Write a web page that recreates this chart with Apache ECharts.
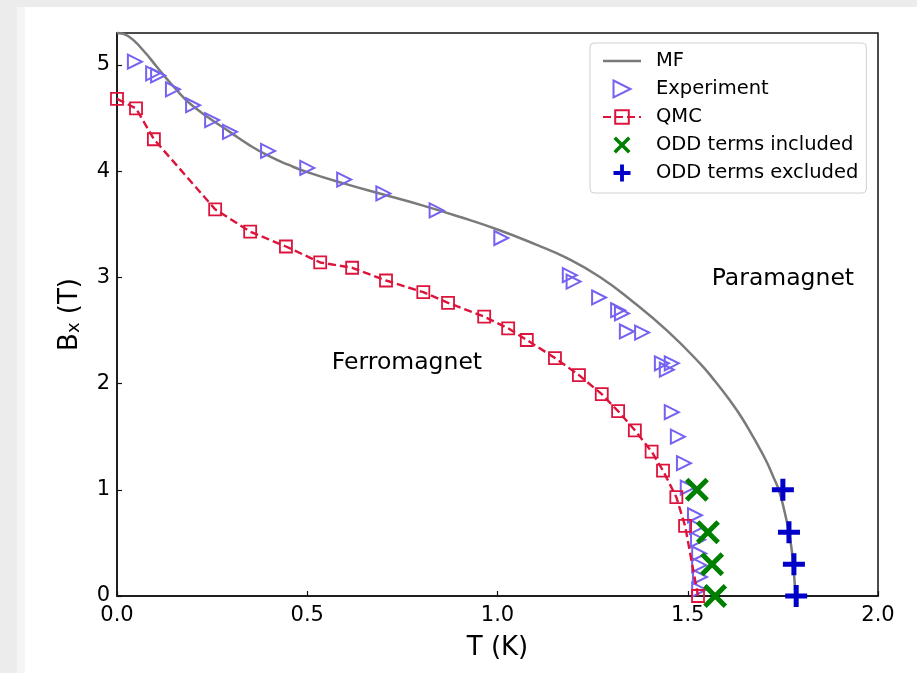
<!DOCTYPE html>
<html>
<head>
<meta charset="utf-8">
<title>Phase diagram Bx vs T</title>
<script src="https://cdn.jsdelivr.net/npm/echarts@6/dist/echarts.min.js"></script>
<style>
  html, body { margin: 0; padding: 0; background: #fff; }
  #page { position: relative; width: 917px; height: 673px; overflow: hidden; }
  #bandTop { position: absolute; left: 0; top: 0; width: 917px; height: 7px; background: #ececec; }
  #bandLeft { position: absolute; left: 0; top: 0; width: 17px; height: 673px; background: #ececec; }
  #bandLeft2 { position: absolute; left: 17px; top: 7px; width: 8px; height: 666px; background: #f5f5f5; }
  #main { position: absolute; left: 0; top: 0; width: 917px; height: 673px; }
</style>
</head>
<body>
<div id="page">
  <div id="bandTop"></div>
  <div id="bandLeft"></div>
  <div id="bandLeft2"></div>
  <div id="main"></div>
</div>
<script>
 // mean field boundary
 var mfT = [0, 0.03, 0.068, 0.105, 0.15, 0.2, 0.3, 0.35, 0.4, 0.45, 0.5, 0.6, 0.7, 0.8, 0.9, 1.0, 1.1, 1.183, 1.27, 1.356, 1.445, 1.532, 1.57, 1.611, 1.64, 1.673, 1.705, 1.725, 1.740, 1.754, 1.766, 1.773, 1.777, 1.780, 1.782, 1.783];
 var mfB = [5.30, 5.27, 5.14, 4.98, 4.79, 4.61, 4.36, 4.24, 4.14, 4.06, 3.99, 3.88, 3.78, 3.68, 3.57, 3.45, 3.31, 3.18, 3.00, 2.77, 2.50, 2.19, 2.03, 1.84, 1.69, 1.49, 1.28, 1.12, 0.99, 0.80, 0.60, 0.44, 0.30, 0.17, 0.07, 0.00];

 // experiment
 var expT = [0.047, 0.095, 0.108, 0.147, 0.20, 0.25, 0.297, 0.397, 0.50, 0.597, 0.70, 0.84, 1.01, 1.19, 1.20, 1.267, 1.317, 1.327, 1.34, 1.38, 1.432, 1.458, 1.445, 1.458, 1.474, 1.49, 1.50, 1.519, 1.524, 1.527, 1.530, 1.530, 1.532, 1.530];
 var expB = [5.03, 4.92, 4.90, 4.77, 4.62, 4.48, 4.37, 4.19, 4.03, 3.92, 3.79, 3.63, 3.37, 3.02, 2.96, 2.81, 2.69, 2.66, 2.49, 2.48, 2.19, 2.19, 2.13, 1.73, 1.50, 1.25, 1.02, 0.76, 0.65, 0.53, 0.40, 0.29, 0.18, 0.06];

 // QMC
 var qmcT = [0, 0.05, 0.097, 0.258, 0.35, 0.444, 0.534, 0.618, 0.707, 0.805, 0.87, 0.965, 1.028, 1.077, 1.151, 1.214, 1.274, 1.317, 1.361, 1.405, 1.435, 1.47, 1.493, 1.527];
 var qmcB = [4.68, 4.59, 4.30, 3.64, 3.43, 3.29, 3.14, 3.09, 2.97, 2.86, 2.76, 2.63, 2.52, 2.41, 2.24, 2.08, 1.90, 1.74, 1.56, 1.36, 1.18, 0.93, 0.66, 0.00];

 // ODD terms
 var inclT = [1.524, 1.553, 1.564, 1.572];
 var inclB = [1.0, 0.6, 0.3, 0.0];
 var exclT = [1.75, 1.766, 1.779, 1.785];
 var exclB = [1.0, 0.6, 0.3, 0.0];

 // phase labels
 var noteText = ['Paramagnet', 'Ferromagnet'];
 var noteT = [1.75, 0.762];
 var noteB = [2.985, 2.19];

 var font = 'DejaVu Sans';
 var triRight = 'path://M0,0 L14,7 L0,14 Z';
 var crossX = 'path://M3.5,0 L12,8.5 L20.5,0 L24,3.5 L15.5,12 L24,20.5 L20.5,24 L12,15.5 L3.5,24 L0,20.5 L8.5,12 L0,3.5 Z';
 var plus = 'path://M8.5,0 H13.5 V8.5 H22 V13.5 H13.5 V22 H8.5 V13.5 H0 V8.5 H8.5 Z';

 function pairs(xs, ys) {
     return xs.map(function (x, i) { return [x, ys[i]]; });
 }

 function drawChart() {
     var myChart = echarts.init(document.getElementById('main'), null, { renderer: 'canvas' });

     var notes = noteText.map(function (t, i) {
         return { name: t, value: [noteT[i], noteB[i]] };
     });

     var option = {
         animation: false,
         grid: {
             left: 117, top: 33, width: 761, height: 563,
             show: true, borderColor: '#111', borderWidth: 1.5, backgroundColor: 'transparent'
         },
         legend: {
             orient: 'vertical',
             left: 590, top: 43,
             padding: [8, 8, 10, 12],
             itemWidth: 38, itemHeight: 17, itemGap: 8,
             borderColor: '#d0d0d0', borderWidth: 1, borderRadius: 4,
             backgroundColor: '#fff',
             textStyle: { fontFamily: font, fontSize: 19.5, color: '#000', lineHeight: 18, padding: [0, 0, 0, 10] },
             data: [
                 { name: 'MF', icon: 'path://M0,0 H38 V2.5 H0 Z' },
                 { name: 'Experiment' },
                 { name: 'QMC' },
                 { name: 'ODD terms included' },
                 { name: 'ODD terms excluded' }
             ]
         },
         xAxis: {
             type: 'value', min: 0, max: 2, interval: 0.5,
             name: 'T (K)', nameLocation: 'middle', nameGap: 39,
             nameTextStyle: { fontFamily: font, fontSize: 26, color: '#000' },
             axisLine: { show: true, lineStyle: { color: '#111', width: 1.5 } },
             axisTick: { show: true, inside: true, length: 5, lineStyle: { color: '#111', width: 1.2 } },
             axisLabel: {
                 fontFamily: font, fontSize: 21, color: '#000', margin: 9,
                 formatter: function (v) { return v.toFixed(1); }
             },
             splitLine: { show: false }
         },
         yAxis: {
             type: 'value', min: 0, max: 5.3, interval: 1,
             name: '{n|B}{s|x}{n| (T)}', nameLocation: 'middle', nameGap: 34, nameRotate: 90,
             nameTextStyle: {
                 color: '#000',
                 rich: {
                     n: { fontFamily: font, fontSize: 26, lineHeight: 26, verticalAlign: 'top', color: '#000' },
                     s: { fontFamily: font, fontSize: 18, lineHeight: 18, verticalAlign: 'bottom', padding: [17, 0, 0, 0], color: '#000' }
                 }
             },
             axisLine: { show: true, lineStyle: { color: '#111', width: 1.5 } },
             axisTick: { show: true, inside: true, length: 5, lineStyle: { color: '#111', width: 1.2 } },
             axisLabel: {
                 fontFamily: font, fontSize: 21, color: '#000', margin: 7,
                 formatter: function (v) { return Math.abs(v - Math.round(v)) < 1e-6 ? String(Math.round(v)) : ''; }
             },
             splitLine: { show: false }
         },
         series: [
             {
                 name: 'MF', type: 'line', data: pairs(mfT, mfB),
                 symbol: 'none', smooth: 0.5, clip: false, z: 2,
                 lineStyle: { color: '#7a7a7a', width: 2.5 },
                 itemStyle: { color: '#7a7a7a' }
             },
             {
                 name: 'Experiment', type: 'scatter', data: pairs(expT, expB),
                 symbol: triRight, symbolSize: 14, clip: false, z: 3,
                 itemStyle: { color: 'transparent', borderColor: '#7463f0', borderWidth: 2, opacity: 1 }
             },
             {
                 name: 'QMC', type: 'line', data: pairs(qmcT, qmcB),
                 symbol: 'rect', symbolSize: 12, showAllSymbol: true, clip: false, z: 4,
                 lineStyle: { color: '#dc143c', width: 2.4, type: [8, 4] },
                 itemStyle: { color: 'transparent', borderColor: '#dc143c', borderWidth: 1.8 }
             },
             {
                 name: 'ODD terms included', type: 'scatter', data: pairs(inclT, inclB),
                 symbol: crossX, symbolSize: 24, clip: false, z: 5,
                 itemStyle: { color: '#008000', opacity: 1 }
             },
             {
                 name: 'ODD terms excluded', type: 'scatter', data: pairs(exclT, exclB),
                 symbol: plus, symbolSize: 22, clip: false, z: 6,
                 itemStyle: { color: '#0000c8', opacity: 1 }
             },
             {
                 name: 'phase labels', type: 'scatter', data: notes,
                 symbolSize: 1, silent: true, z: 7,
                 itemStyle: { color: 'transparent', opacity: 1 },
                 label: {
                     show: true, position: 'inside',
                     formatter: '{b}', opacity: 1,
                     fontFamily: font, fontSize: 23.5, color: '#000'
                 }
             }
         ]
     };

     myChart.setOption(option);
 }

 drawChart();
</script>
</body>
</html>
